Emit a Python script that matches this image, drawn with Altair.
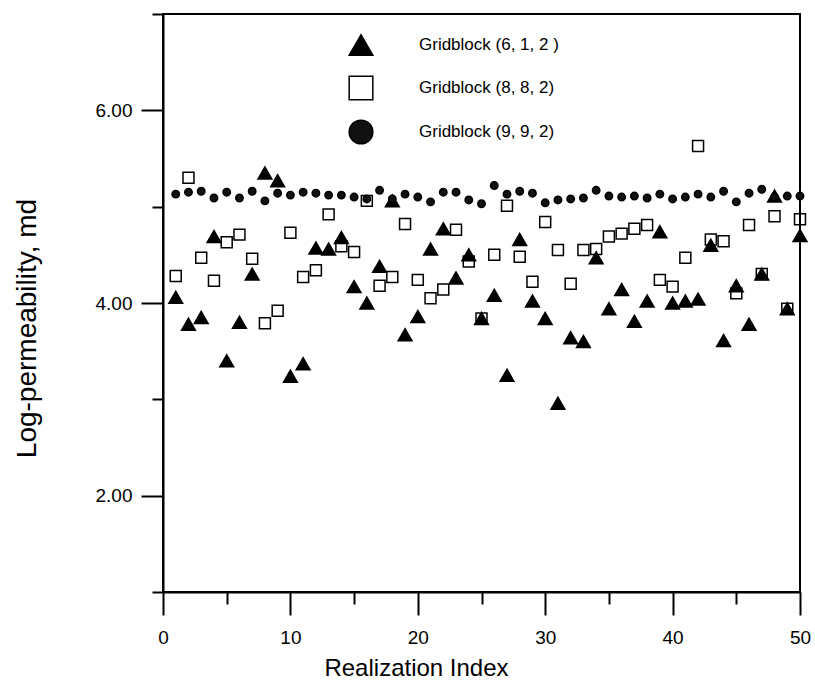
import altair as alt
import pandas as pd

realization = list(range(1, 51))

block_612 = [4.06, 3.78, 3.85, 4.69, 3.40, 3.80, 4.30, 5.35, 5.27, 3.24,
             3.37, 4.57, 4.56, 4.68, 4.17, 4.00, 4.38, 5.06, 3.67, 3.86,
             4.56, 4.77, 4.26, 4.50, 3.84, 4.08, 3.25, 4.66, 4.02, 3.84,
             2.96, 3.64, 3.60, 4.47, 3.94, 4.14, 3.81, 4.02, 4.74, 4.00,
             4.02, 4.04, 4.60, 3.61, 4.18, 3.78, 4.30, 5.11, 3.94, 4.70]

block_882 = [4.28, 5.30, 4.47, 4.23, 4.63, 4.71, 4.46, 3.79, 3.92, 4.73,
             4.27, 4.34, 4.92, 4.59, 4.53, 5.06, 4.18, 4.27, 4.82, 4.24,
             4.05, 4.14, 4.76, 4.43, 3.84, 4.50, 5.01, 4.48, 4.22, 4.84,
             4.55, 4.20, 4.55, 4.56, 4.69, 4.72, 4.77, 4.81, 4.24, 4.17,
             4.47, 5.63, 4.66, 4.64, 4.10, 4.81, 4.30, 4.90, 3.94, 4.87]

block_992 = [5.13, 5.15, 5.16, 5.09, 5.15, 5.09, 5.16, 5.06, 5.14, 5.12,
             5.15, 5.14, 5.12, 5.12, 5.10, 5.08, 5.17, 5.08, 5.13, 5.10,
             5.05, 5.15, 5.15, 5.07, 5.03, 5.22, 5.13, 5.16, 5.14, 5.04,
             5.07, 5.08, 5.09, 5.17, 5.11, 5.10, 5.11, 5.09, 5.13, 5.08,
             5.10, 5.13, 5.10, 5.16, 5.05, 5.14, 5.18, 5.10, 5.11, 5.11]

series_names = ["Gridblock (6, 1, 2 )", "Gridblock (8, 8, 2)", "Gridblock (9, 9, 2)"]
marker_area = {series_names[0]: 190, series_names[1]: 120, series_names[2]: 55}
draw_order = {series_names[1]: 0, series_names[0]: 1, series_names[2]: 2}

rows = []
for name, vals in zip(series_names, [block_612, block_882, block_992]):
    for i, v in zip(realization, vals):
        rows.append({"series": name, "index": i, "value": v,
                     "sz": marker_area[name], "ord": draw_order[name]})
df = pd.DataFrame(rows).sort_values(["ord", "index"]).reset_index(drop=True)

FONT = "Liberation Sans"

legend = alt.Legend(
    title=None,
    orient="none",
    legendX=185,
    legendY=18,
    padding=0,
    symbolSize=560,
    symbolStrokeWidth=1.5,
    labelFontSize=17,
    labelFont=FONT,
    labelColor="black",
    labelOffset=45,
    rowPadding=14,
)

xscale = alt.Scale(domain=[0, 50], nice=False, zero=False)
yscale = alt.Scale(domain=[1, 7], nice=False, zero=False)

points = alt.Chart(df).mark_point(filled=True, opacity=1, strokeWidth=1.5).encode(
    x=alt.X("index:Q", scale=xscale,
            axis=alt.Axis(
                orient="bottom",
                title="Realization Index",
                values=list(range(0, 51, 10)),
                tickSize=23, tickWidth=2, tickColor="black",
                domainWidth=2, domainColor="black",
                labelFontSize=19, labelFont=FONT, labelColor="black",
                labelPadding=13, labelFlush=False,
                titleFontSize=24, titleFont=FONT, titleFontWeight="normal", titleColor="black",
                titleX=253, titleY=83, titleBaseline="alphabetic",
                grid=False,
            )),
    y=alt.Y("value:Q", scale=yscale,
            axis=alt.Axis(
                orient="left",
                title="Log-permeability, md",
                values=[2, 4, 6],
                format=".2f",
                tickSize=22, tickWidth=2, tickColor="black",
                domainWidth=2, domainColor="black",
                labelFontSize=19, labelFont=FONT, labelColor="black",
                labelPadding=9, labelFlush=False,
                titleFontSize=28, titleFont=FONT, titleFontWeight="normal", titleColor="black",
                titleX=-128, titleY=314, titleAngle=270, titleAlign="center",
                titleBaseline="alphabetic",
                grid=False,
            )),
    shape=alt.Shape("series:N",
                    scale=alt.Scale(domain=series_names, range=["triangle-up", "square", "circle"]),
                    legend=legend),
    fill=alt.Fill("series:N",
                  scale=alt.Scale(domain=series_names, range=["black", "transparent", "#111111"]),
                  legend=legend),
    stroke=alt.Stroke("series:N",
                      scale=alt.Scale(domain=series_names, range=["black", "black", "black"]),
                      legend=legend),
    size=alt.Size("sz:Q", scale=None),
    order=alt.Order("ord:Q"),
)

minor = alt.Chart(df).mark_point(opacity=0).encode(
    x=alt.X("index:Q", scale=xscale,
            axis=alt.Axis(
                orient="bottom", title=None,
                values=[5, 15, 25, 35, 45],
                labels=False, domain=False,
                tickSize=12, tickWidth=2, tickColor="black",
                grid=False,
            )),
    y=alt.Y("value:Q", scale=yscale,
            axis=alt.Axis(
                orient="left", title=None,
                values=[1, 3, 5, 7],
                labels=False, domain=False,
                tickSize=11, tickWidth=2, tickColor="black",
                grid=False,
            )),
)

chart = alt.layer(points, minor).resolve_axis(
    x="independent", y="independent"
).properties(
    width=637,
    height=578,
    autosize=alt.AutoSizeParams(type="none"),
    padding={"left": 163, "top": 14, "right": 15, "bottom": 92},
    view=alt.ViewBackground(stroke="black", strokeWidth=2, strokeOpacity=1),
).configure_view(
    stroke="black",
    strokeWidth=2,
).configure(
    background="white",
)

chart.save("out.html", embed_options={"renderer": "svg", "actions": False})
